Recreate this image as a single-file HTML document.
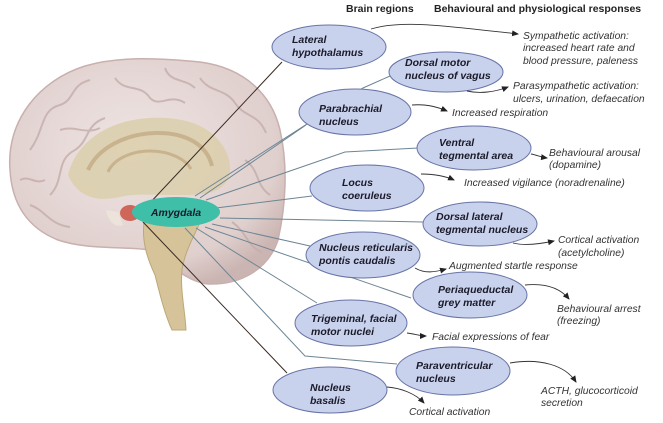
<!DOCTYPE html>
<html><head><meta charset="utf-8"><style>
html,body{margin:0;padding:0;background:#fff;}
svg{display:block;font-family:"Liberation Sans",Arial,sans-serif;}
.n{font-weight:bold;font-style:italic;font-size:10.5px;fill:#1a1a2a;}
.r{font-style:italic;font-size:10.3px;fill:#333;}
.h{font-weight:bold;font-size:10.5px;fill:#222;}
.e{fill:#c9d2ec;stroke:#6874a8;stroke-width:1;}
.bl{stroke:#6d8594;stroke-width:1;fill:none;}
.dk{stroke:#3a2a22;stroke-width:1;fill:none;}
.ar{stroke:#333;stroke-width:0.9;fill:none;marker-end:url(#a);}
</style></head><body>
<svg width="663" height="423" viewBox="0 0 663 423">
<defs>
<marker id="a" markerWidth="7" markerHeight="6" refX="6" refY="3" orient="auto" markerUnits="userSpaceOnUse"><path d="M0,0 L7,3 L0,6 z" fill="#222"/></marker>
<radialGradient id="bg" cx="0.45" cy="0.4" r="0.65"><stop offset="0" stop-color="#efe5e3"/><stop offset="0.8" stop-color="#dfcfcd"/><stop offset="1" stop-color="#cbb5b2"/></radialGradient>
</defs>
<!-- brain -->
<path d="M10,170 C6,120 40,80 85,66 C120,56 160,58 200,62 C245,68 272,95 280,130 C288,165 286,205 278,240 C268,270 240,285 208,284 C188,282 172,266 150,250 C120,246 88,250 58,240 C28,228 12,205 10,170 Z" fill="url(#bg)" stroke="#c8b0ae" stroke-width="1.5"/>
<g stroke="#c4adab" stroke-width="2" fill="none" opacity="0.8">
<path d="M30,150 C45,130 40,110 60,105 C75,100 70,85 90,80"/>
<path d="M50,195 C65,180 55,160 75,150 C90,140 85,125 105,118"/>
<path d="M115,78 C125,93 140,83 150,98 C160,108 170,93 185,103"/>
<path d="M200,78 C210,93 225,88 235,103 C245,118 258,113 266,133"/>
<path d="M245,160 C260,170 255,185 270,195"/>
<path d="M232,222 C247,232 247,247 262,252"/>
<path d="M30,205 C45,210 50,225 70,227"/>
<path d="M165,68 C170,83 185,78 195,88"/>
<path d="M60,130 C75,125 85,135 100,128"/>
<path d="M20,180 C30,175 35,185 45,180"/>
</g>
<path d="M68,175 C76,142 108,120 150,118 C192,116 218,130 228,156 C235,178 224,192 202,194 C170,197 140,192 120,197 C98,202 78,198 68,175 Z" fill="#dccfae" opacity="0.9"/>
<path d="M88,170 C98,148 125,134 155,133 C186,132 207,145 212,166" stroke="#c8b38e" stroke-width="4" fill="none"/>
<path d="M108,172 C113,160 130,151 150,151 C171,151 186,160 191,169" stroke="#c8b38e" stroke-width="3" fill="none"/>
<path d="M145,215 C140,240 148,260 155,275 C160,295 165,315 172,330 L186,330 C185,310 180,290 182,270 C185,250 195,235 200,222 Z" fill="#d6c39a" stroke="#bca878" stroke-width="1"/>
<path d="M106,210 C108,222 116,228 123,225 L118,212 Z" fill="#ece4da"/>
<ellipse cx="130" cy="213" rx="10" ry="8" fill="#d0655a"/>
<!-- connectors -->
<path class="dk" d="M148,205 L282,62"/>
<path class="dk" d="M143,222 L287,373"/>
<path class="bl" d="M195,196 L363,88 L390,76"/>
<path class="bl" d="M200,198 L306,125"/>
<path class="bl" d="M206,200 L345,152 L418,148"/>
<path class="bl" d="M216,208 L312,196"/>
<path class="bl" d="M220,218 L423,222"/>
<path class="bl" d="M212,224 L310,246"/>
<path class="bl" d="M205,227 L411,298"/>
<path class="bl" d="M196,228 L317,303"/>
<path class="bl" d="M185,228 L305,356 L397,364"/>
<ellipse cx="176" cy="212" rx="44" ry="15" fill="#3fbfa8"/>
<text class="n" x="176" y="216" text-anchor="middle" font-size="11.5">Amygdala</text>
<!-- header -->
<text class="h" x="346" y="12">Brain regions</text>
<text class="h" x="434" y="12">Behavioural and physiological responses</text>
<!-- ellipses -->
<ellipse class="e" cx="329" cy="47" rx="57" ry="22"/>
<text class="n" x="292" y="43">Lateral</text><text class="n" x="292" y="56">hypothalamus</text>
<ellipse class="e" cx="446" cy="72" rx="57" ry="20"/>
<text class="n" x="405" y="66">Dorsal motor</text><text class="n" x="405" y="79">nucleus of vagus</text>
<ellipse class="e" cx="355" cy="112" rx="56" ry="23"/>
<text class="n" x="319" y="112">Parabrachial</text><text class="n" x="319" y="125">nucleus</text>
<ellipse class="e" cx="474" cy="148" rx="57" ry="22"/>
<text class="n" x="439" y="146">Ventral</text><text class="n" x="439" y="159">tegmental area</text>
<ellipse class="e" cx="367" cy="188" rx="57" ry="23"/>
<text class="n" x="342" y="186">Locus</text><text class="n" x="342" y="199">coeruleus</text>
<ellipse class="e" cx="480" cy="224" rx="57" ry="22"/>
<text class="n" x="436" y="220">Dorsal lateral</text><text class="n" x="436" y="233">tegmental nucleus</text>
<ellipse class="e" cx="363" cy="255" rx="57" ry="23"/>
<text class="n" x="319" y="251">Nucleus reticularis</text><text class="n" x="319" y="264">pontis caudalis</text>
<ellipse class="e" cx="470" cy="295" rx="57" ry="23"/>
<text class="n" x="438" y="293">Periaqueductal</text><text class="n" x="438" y="306">grey matter</text>
<ellipse class="e" cx="351" cy="323" rx="56" ry="23"/>
<text class="n" x="311" y="322">Trigeminal, facial</text><text class="n" x="311" y="335">motor nuclei</text>
<ellipse class="e" cx="453" cy="371" rx="57" ry="24"/>
<text class="n" x="416" y="369">Paraventricular</text><text class="n" x="416" y="382">nucleus</text>
<ellipse class="e" cx="330" cy="390" rx="57" ry="23"/>
<text class="n" x="310" y="391">Nucleus</text><text class="n" x="310" y="404">basalis</text>
<!-- arrows -->
<path class="ar" d="M371,29 C400,20 440,25 518,34"/>
<path class="ar" d="M467,91 C480,94 495,92 508,87"/>
<path class="ar" d="M412,105 C425,104 435,106 447,111"/>
<path class="ar" d="M531,154 C537,155 540,157 547,158"/>
<path class="ar" d="M421,174 C433,174 445,176 454,180"/>
<path class="ar" d="M513,243 C525,246 540,244 554,241"/>
<path class="ar" d="M415,268 C425,274 435,272 446,269"/>
<path class="ar" d="M525,285 C545,283 560,288 569,299"/>
<path class="ar" d="M407,333 C415,334 420,336 426,336"/>
<path class="ar" d="M510,363 C540,358 565,365 576,382"/>
<path class="ar" d="M387,387 C400,388 415,393 424,403"/>
<!-- responses -->
<text class="r" x="523" y="39">Sympathetic activation:</text>
<text class="r" x="523" y="51">increased heart rate and</text>
<text class="r" x="523" y="64">blood pressure, paleness</text>
<text class="r" x="513" y="89">Parasympathetic activation:</text>
<text class="r" x="513" y="102">ulcers, urination, defaecation</text>
<text class="r" x="452" y="116">Increased respiration</text>
<text class="r" x="549" y="156">Behavioural arousal</text>
<text class="r" x="549" y="168">(dopamine)</text>
<text class="r" x="464" y="186">Increased vigilance (noradrenaline)</text>
<text class="r" x="558" y="243">Cortical activation</text>
<text class="r" x="558" y="256">(acetylcholine)</text>
<text class="r" x="449" y="269">Augmented startle response</text>
<text class="r" x="557" y="312">Behavioural arrest</text>
<text class="r" x="557" y="324">(freezing)</text>
<text class="r" x="432" y="340">Facial expressions of fear</text>
<text class="r" x="541" y="394">ACTH, glucocorticoid</text>
<text class="r" x="541" y="406">secretion</text>
<text class="r" x="409" y="415">Cortical activation</text>
</svg>
</body></html>
